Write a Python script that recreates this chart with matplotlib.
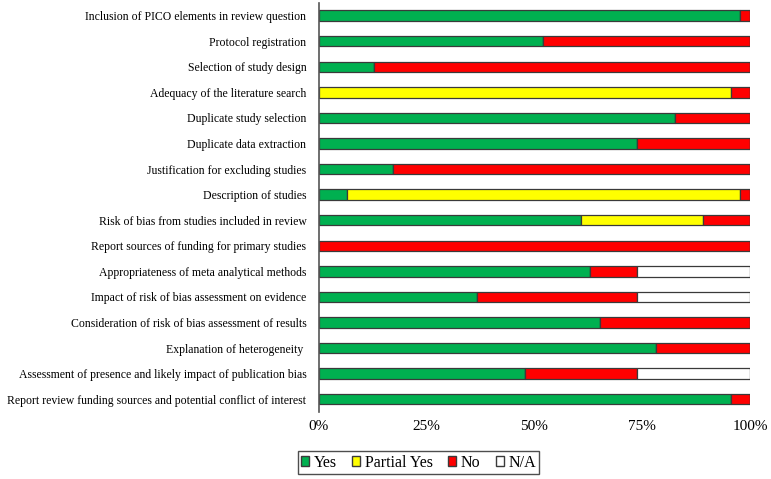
import numpy as np
import matplotlib
matplotlib.use("Agg")
import matplotlib.pyplot as plt
from matplotlib.patches import Patch

plt.rcParams['font.family'] = ['Liberation Serif', 'DejaVu Serif']

# AMSTAR-2 items, top to bottom
items = [
    "Inclusion of PICO elements in review question",
    "Protocol registration",
    "Selection of study design",
    "Adequacy of the literature search",
    "Duplicate study selection",
    "Duplicate data extraction",
    "Justification for excluding studies",
    "Description of studies",
    "Risk of bias from studies included in review",
    "Report sources of funding for primary studies",
    "Appropriateness of meta analytical methods",
    "Impact of risk of bias assessment on evidence",
    "Consideration of risk of bias assessment of results",
    "Explanation of heterogeneity ",
    "Assessment of presence and likely impact of publication bias",
    "Report review funding sources and potential conflict of interest",
]

# percentages
yes = [97.7, 52.0, 12.8, 0.0, 82.6, 73.7, 17.2, 6.4, 60.7, 0.0, 63.0, 36.7, 65.1, 78.2, 47.7, 95.5]
partial = [0.0, 0.0, 0.0, 95.5, 0.0, 0.0, 0.0, 91.3, 28.3, 0.0, 0.0, 0.0, 0.0, 0.0, 0.0, 0.0]
na = [0.0, 0.0, 0.0, 0.0, 0.0, 0.0, 0.0, 0.0, 0.0, 0.0, 26.3, 26.3, 0.0, 0.0, 26.3, 0.0]
no = [100 - y - p - n for y, p, n in zip(yes, partial, na)]

colors = {"Yes": "#00B050", "Partial Yes": "#FFFF00", "No": "#FF0000", "N/A": "#FFFFFF"}
edge = "#3a3a3a"

fig = plt.figure(figsize=(7.71, 4.79), dpi=100)
ax = fig.add_axes([0.4137, 0.14, 0.559, 0.854])

y = np.arange(len(items))
left = np.zeros(len(items))
for name, vals in [("Yes", yes), ("Partial Yes", partial), ("No", no), ("N/A", na)]:
    vals = np.array(vals)
    ax.barh(y, vals, left=left, height=0.41, color=colors[name],
            edgecolor=edge, linewidth=0.9)
    left += vals

ax.set_ylim(15.5, -0.5)
ax.set_xlim(0, 100)
ax.set_yticks(y)
ax.set_yticklabels(items, fontsize=8.5)
ax.set_xticks([0, 25, 50, 75, 100])
ax.set_xticklabels(["0%", "25%", "50%", "75%", "100%"], fontsize=11)
ax.tick_params(axis='both', length=0)
ax.tick_params(axis='y', pad=9)
ax.tick_params(axis='x', pad=6)
for s in ['top', 'right', 'bottom']:
    ax.spines[s].set_visible(False)
ax.spines['left'].set_color('#555555')
ax.spines['left'].set_linewidth(1.2)

handles = [Patch(facecolor=colors[k], edgecolor=edge, label=k)
           for k in ["Yes", "Partial Yes", "No", "N/A"]]
leg = fig.legend(handles=handles, loc='lower left', bbox_to_anchor=(0.376, -0.006),
                 ncol=4, fontsize=11.5, frameon=True, fancybox=False,
                 handlelength=0.5, handleheight=0.5, handletextpad=0.3,
                 columnspacing=0.95, borderpad=0.2, borderaxespad=0.5)
leg.get_frame().set_edgecolor('#222222')
leg.get_frame().set_linewidth(1.0)

fig.savefig("out.png", dpi=100)
